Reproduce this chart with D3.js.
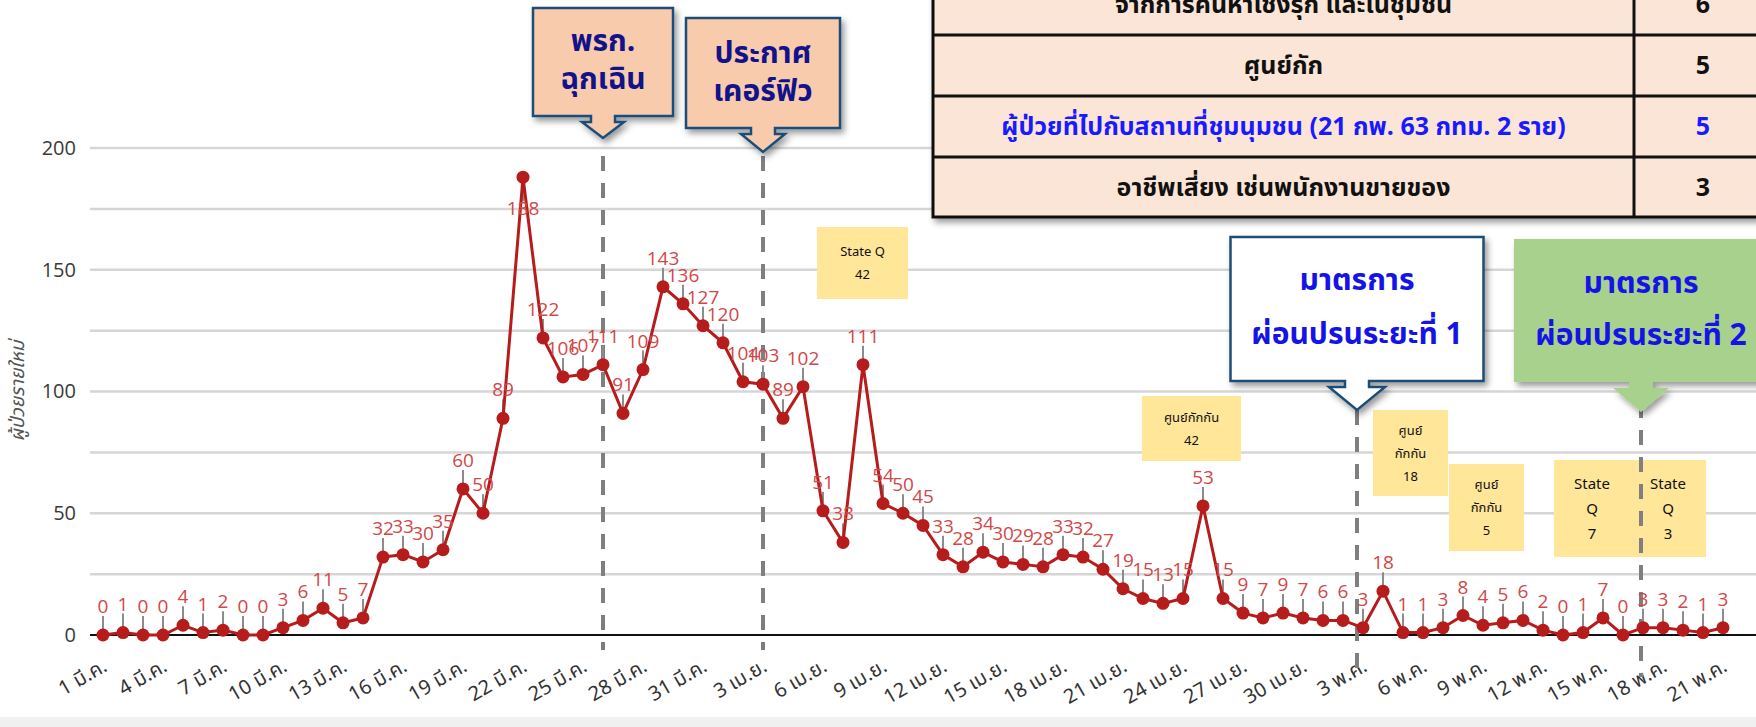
<!DOCTYPE html>
<html>
<head>
<meta charset="utf-8">
<script src="https://cdn.jsdelivr.net/npm/d3@7"></script>
<style>
body { margin: 0; background: #fff; overflow: hidden; }
svg { display: block; }
.num { font-family: "Open Sans", "Lato", sans-serif; }
.thai { font-family: "Noto Sans Thai", "Tahoma", "Loma", "Garuda", "Noto Sans", sans-serif; }
</style>
</head>
<body>
<svg id="chart" width="1756" height="727"></svg>
<script>
// new cases per day, 1 Mar - 21 May
var cases = [0,1,0,0,4,1,2,0,0,3,
             6,11,5,7,32,33,30,35,60,50,
             89,188,122,106,107,111,91,109,143,136,
             127,120,104,103,89,102,51,38,111,54,
             50,45,33,28,34,30,29,28,33,32,
             27,19,15,13,15,53,15,9,7,9,
             7,6,6,3,18,1,1,3,8,4,
             5,6,2,0,1,7,0,3,3,2,
             1,3];

// one label every 3 days
var tickLabels = ["1 มี.ค.","4 มี.ค.","7 มี.ค.","10 มี.ค.","13 มี.ค.","16 มี.ค.","19 มี.ค.","22 มี.ค.","25 มี.ค.","28 มี.ค.","31 มี.ค.",
                  "3 เม.ย.","6 เม.ย.","9 เม.ย.","12 เม.ย.","15 เม.ย.","18 เม.ย.","21 เม.ย.","24 เม.ย.","27 เม.ย.","30 เม.ย.",
                  "3 พ.ค.","6 พ.ค.","9 พ.ค.","12 พ.ค.","15 พ.ค.","18 พ.ค.","21 พ.ค."];
var yTicks = [0, 50, 100, 150, 200];
var yTitle = "ผู้ป่วยรายใหม่";

// events (day index from 1 Mar)
var eventDays = [25, 33, 62.7, 76.9];
var eventText = [["พรก.", "ฉุกเฉิน"], ["ประกาศ", "เคอร์ฟิว"], ["มาตรการ", "ผ่อนปรนระยะที่ 1"], ["มาตรการ", "ผ่อนปรนระยะที่ 2"]];

// table in the corner
var tableLabels = ["จากการค้นหาเชิงรุก และในชุมชน", "ศูนย์กัก", "ผู้ป่วยที่ไปกับสถานที่ชุมนุมชน  (21 กพ. 63 กทม. 2 ราย)", "อาชีพเสี่ยง เช่นพนักงานขายของ"];
var tableCounts = [6, 5, 5, 3];

// yellow notes
var noteText = [["State Q", "42"], ["ศูนย์กักกัน", "42"], ["ศูนย์", "กักกัน", "18"], ["ศูนย์", "กักกัน", "5"], ["State", "Q", "7"], ["State", "Q", "3"]];

var svg = d3.select("#chart");

var x = d3.scaleLinear().domain([0, cases.length - 1]).range([103, 1723]);
var y = d3.scaleLinear().domain([0, 200]).range([635, 148]);

var defs = svg.append("defs");
var sh = defs.append("filter").attr("id", "shadow").attr("x", "-10%").attr("y", "-10%").attr("width", "130%").attr("height", "140%");
sh.append("feDropShadow").attr("dx", 3).attr("dy", 4).attr("stdDeviation", 3).attr("flood-color", "#000").attr("flood-opacity", 0.4);

// bottom band
svg.append("rect").attr("x", 0).attr("y", 717).attr("width", 1756).attr("height", 10).attr("fill", "#f0f0f0");

// grid
svg.append("g").selectAll("line")
  .data(d3.range(25, 201, 25))
  .join("line")
  .attr("x1", 90).attr("x2", 1756)
  .attr("y1", d => y(d)).attr("y2", d => y(d))
  .attr("stroke", "#d6d6d6").attr("stroke-width", 2.5);

// y axis labels
var yAxis = svg.append("g").attr("class", "num").attr("transform", "translate(80,0)")
  .call(d3.axisLeft(y).tickValues(yTicks).tickSize(0).tickPadding(4));
yAxis.select(".domain").remove();
yAxis.selectAll("text").attr("font-size", 20).attr("fill", "#3a3a3a").attr("font-family", "Open Sans, sans-serif");

svg.append("text").attr("class", "thai")
  .attr("transform", "translate(24,391) rotate(-90)")
  .attr("text-anchor", "middle")
  .attr("font-size", 19).attr("font-style", "italic").attr("fill", "#555")
  .text(yTitle);

// x axis
var xAxis = svg.append("g").attr("transform", "translate(0,635)")
  .call(d3.axisBottom(x).tickValues(d3.range(0, cases.length, 3)).tickSize(0)
    .tickFormat((d, i) => tickLabels[i]));
xAxis.select(".domain").remove();
xAxis.selectAll("text")
  .attr("class", "thai")
  .attr("font-size", 20).attr("fill", "#333")
  .attr("text-anchor", "end")
  .attr("dy", null).attr("y", null)
  .attr("transform", "translate(5,35) rotate(-30)");

svg.append("line").attr("x1", 90).attr("x2", 1756).attr("y1", y(0)).attr("y2", y(0))
  .attr("stroke", "#111").attr("stroke-width", 2);

// yellow notes
var noteBoxes = [
  {x: 817, y: 227, w: 91, h: 72, cols: [0]},
  {x: 1142, y: 396, w: 99, h: 65, cols: [1]},
  {x: 1373, y: 410, w: 75, h: 86, cols: [2]},
  {x: 1449, y: 464, w: 75, h: 87, cols: [3]},
  {x: 1554, y: 460, w: 152, h: 97, cols: [4, 5]}
];
var noteG = svg.append("g").attr("class", "thai");
noteBoxes.forEach(function (b) {
  noteG.append("rect").attr("x", b.x).attr("y", b.y).attr("width", b.w).attr("height", b.h).attr("fill", "#ffe699");
  b.cols.forEach(function (c, k) {
    var cx = b.x + b.w * (k + 0.5) / b.cols.length;
    var lines = noteText[c];
    var step = b.cols.length > 1 ? 25 : 23;
    var fs = b.cols.length > 1 ? 15 : 13;
    var top = b.y + (b.h - step * (lines.length - 1)) / 2;
    lines.forEach(function (t, j) {
      noteG.append("text").attr("x", cx).attr("y", top + j * step).attr("dy", "0.35em")
        .attr("text-anchor", "middle").attr("font-size", fs).attr("fill", "#111").text(t);
    });
  });
});

// event dashed lines
var dashEnds = [[156, 650], [156, 650], [410, 678], [403, 677]];
svg.append("g").selectAll("line")
  .data(eventDays)
  .join("line")
  .attr("x1", d => x(d)).attr("x2", d => x(d))
  .attr("y1", (d, i) => dashEnds[i][0]).attr("y2", (d, i) => dashEnds[i][1])
  .attr("stroke", "#7f7f7f").attr("stroke-width", 4).attr("stroke-dasharray", "15,12");

// series
svg.append("g").selectAll("line")
  .data(cases)
  .join("line")
  .attr("x1", (d, i) => x(i)).attr("x2", (d, i) => x(i))
  .attr("y1", d => y(d))
  .attr("y2", d => d > 150 ? y(d) + 24 : y(d) - 19)
  .attr("stroke", "#8c8c8c").attr("stroke-width", 2);

svg.append("path")
  .datum(cases)
  .attr("fill", "none").attr("stroke", "#b71c1c").attr("stroke-width", 3)
  .attr("d", d3.line().x((d, i) => x(i)).y(d => y(d)));

svg.append("g").selectAll("circle")
  .data(cases)
  .join("circle")
  .attr("cx", (d, i) => x(i)).attr("cy", d => y(d)).attr("r", 6.5)
  .attr("fill", "#b71c1c");

svg.append("g").attr("class", "num").selectAll("text")
  .data(cases)
  .join("text")
  .attr("x", (d, i) => x(i))
  .attr("y", d => d > 150 ? y(d) + 38 : y(d) - 22)
  .attr("text-anchor", "middle")
  .attr("font-size", 19).attr("fill", "#d04848")
  .text(d => d);

// callouts
var callouts = [
  {top: 8, bottom: 116, w: 140, tip: 138, aw: 21, fill: "#f8cbad", stroke: "#1f4e79", color: "#12128a", gap: 38, shift: -3},
  {top: 18, bottom: 128, w: 154, tip: 152, aw: 22, fill: "#f8cbad", stroke: "#1f4e79", color: "#12128a", gap: 38, shift: -2},
  {top: 237, bottom: 381, w: 253, tip: 410, aw: 28, fill: "#ffffff", stroke: "#1f4e79", color: "#1414e6", gap: 54, shift: -3},
  {top: 239, bottom: 382, w: 254, tip: 412, aw: 28, fill: "#a9d18e", stroke: "none", color: "#1414e6", gap: 52, shift: -2}
];
callouts.forEach(function (c, i) {
  var cx = x(eventDays[i]), l = cx - c.w / 2, r = cx + c.w / 2, b = c.bottom, s = b + 6;
  var p = d3.path();
  p.moveTo(l, c.top); p.lineTo(r, c.top); p.lineTo(r, b);
  p.lineTo(cx + 12, b); p.lineTo(cx + 12, s); p.lineTo(cx + c.aw, s);
  p.lineTo(cx, c.tip);
  p.lineTo(cx - c.aw, s); p.lineTo(cx - 12, s); p.lineTo(cx - 12, b);
  p.lineTo(l, b); p.closePath();
  svg.append("path").attr("d", p.toString())
    .attr("fill", c.fill).attr("stroke", c.stroke).attr("stroke-width", 2.5)
    .attr("filter", "url(#shadow)");
  var lines = eventText[i];
  var mid = (c.top + c.bottom) / 2 + c.shift;
  lines.forEach(function (t, j) {
    svg.append("text").attr("class", "thai")
      .attr("x", cx).attr("y", mid + (j - 0.5) * c.gap).attr("dy", "0.35em")
      .attr("text-anchor", "middle").attr("font-size", 30).attr("font-weight", "bold")
      .attr("fill", c.color).text(t);
  });
});

// table
var tbl = svg.append("g").attr("class", "thai");
var rowH = 61, tTop = -26, tLeft = 933, tSplit = 1634, tRight = 1772;
tbl.append("rect").attr("x", tLeft).attr("y", tTop).attr("width", tRight - tLeft).attr("height", rowH * 4 - 1)
  .attr("fill", "#fbe5d6").attr("stroke", "#111").attr("stroke-width", 3).attr("filter", "url(#shadow)");
tableLabels.forEach(function (t, i) {
  var ry = tTop + i * rowH;
  if (i > 0) tbl.append("line").attr("x1", tLeft).attr("x2", tRight).attr("y1", ry).attr("y2", ry).attr("stroke", "#111").attr("stroke-width", 3);
  var col = i == 2 ? "#1a1aff" : "#111";
  tbl.append("text").attr("x", (tLeft + tSplit) / 2).attr("y", ry + rowH / 2).attr("dy", "0.35em")
    .attr("text-anchor", "middle").attr("font-size", 25).attr("font-weight", "bold").attr("fill", col).text(t);
  tbl.append("text").attr("x", 1703).attr("y", ry + rowH / 2).attr("dy", "0.35em")
    .attr("text-anchor", "middle").attr("font-size", 25).attr("font-weight", "bold").attr("fill", col).text(tableCounts[i]);
});
tbl.append("line").attr("x1", tSplit).attr("x2", tSplit).attr("y1", tTop).attr("y2", tTop + rowH * 4 - 1)
  .attr("stroke", "#111").attr("stroke-width", 3);
</script>
</body>
</html>
